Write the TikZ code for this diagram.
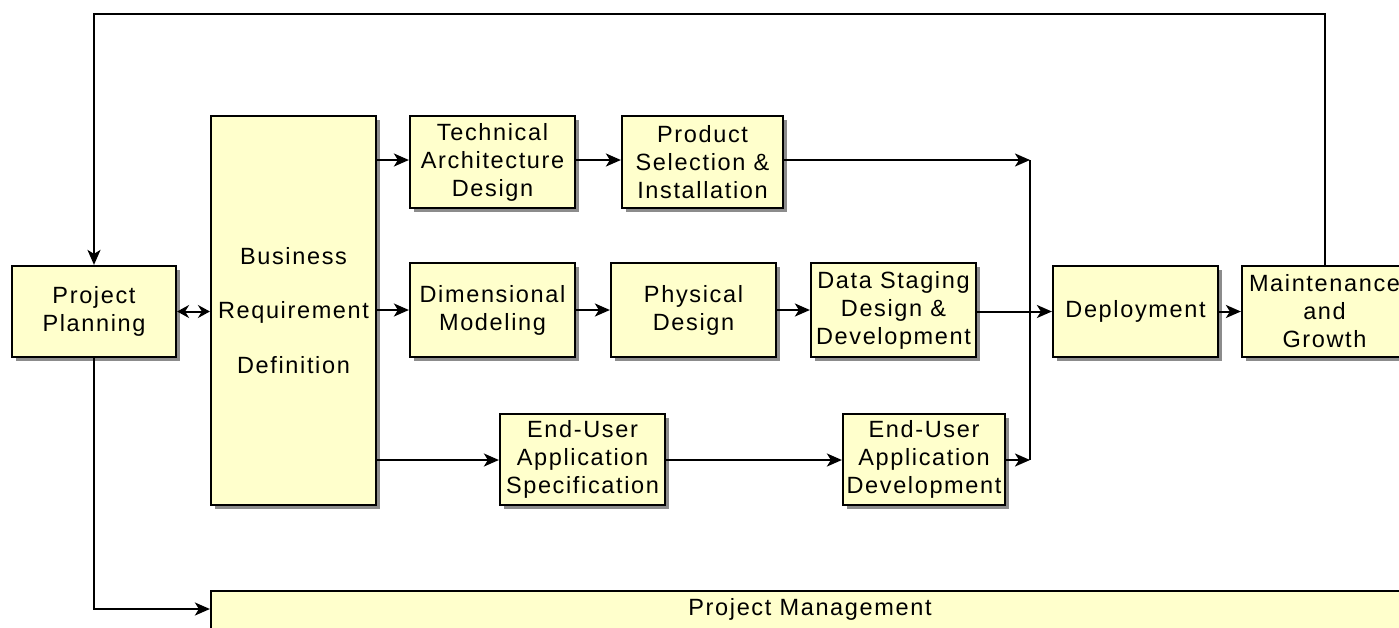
\documentclass[tikz,border=0pt]{standalone}
\usepackage{fontspec}
\setmainfont{Liberation Sans}[LetterSpace=7]
\usetikzlibrary{arrows.meta,shadows}
\definecolor{boxfill}{RGB}{255,255,204}
\begin{document}
\begin{tikzpicture}[x=1pt,y=-1pt,
  box/.style={draw=black, line width=2.2pt, fill=boxfill, inner sep=0pt, align=center,
    font=\fontsize{23.5}{28}\selectfont,
    general shadow={fill=black!45, shadow xshift=3.5pt, shadow yshift=-3.5pt}},
  conn/.style={line width=2pt, -{Stealth[length=15pt,width=13pt,inset=4pt]}},
  plain/.style={line width=2pt},
  lbl/.style={inner sep=0pt, align=center, font=\fontsize{23.5}{28}\selectfont}]
\useasboundingbox (0,0) rectangle (1399,627);
% boxes
\node[box, minimum width=164, minimum height=91] (pp) at (94,311.5) {Project\\Planning};
\node[box, minimum width=165, minimum height=389] (brd) at (293.5,310.5) {Business\\[26.5pt]Requirement\\[26.5pt]Definition};
\node[box, minimum width=165, minimum height=92] (tad) at (492.5,162) {Technical\\Architecture\\Design};
\node[box, minimum width=161, minimum height=92] (ps) at (702.5,162) {Product\\Selection \&\\Installation};
\node[box, minimum width=165, minimum height=94] (dm) at (492.5,310) {Dimensional\\Modeling};
\node[box, minimum width=165, minimum height=94] (pd) at (693.5,310) {Physical\\Design};
\node[box, minimum width=165, minimum height=94] (ds) at (893.5,310) {Data Staging\\Design \&\\Development};
\node[box, minimum width=165, minimum height=91] (euas) at (582.5,459.5) {End-User\\Application\\Specification};
\node[box, minimum width=162, minimum height=91] (euad) at (924,459.5) {End-User\\Application\\Development};
\node[box, minimum width=165, minimum height=91] (dep) at (1135.5,311.5) {Deployment};
\node[box, minimum width=165, minimum height=91] (mg) at (1324.5,311.5) {Maintenance\\and\\Growth};
\node[box, minimum width=1198, minimum height=60, anchor=north] (pm) at (810,590) {};
\node[lbl] (pmtext) at (810,609) {Project Management};
% junction points
\coordinate (j1) at (1030,160);
\coordinate (j2) at (1030,460);
\coordinate (topy) at (0,14);
% connectors
\draw[plain] (j1) -- (j2);
\draw[line width=2pt, {Stealth[length=12pt,width=13pt,inset=4pt]}-{Stealth[length=12pt,width=13pt,inset=4pt]}] (pp.east) -- (pp.east -| brd.west);
\draw[conn] (brd.east |- j1) -- (brd.east |- j1 -| tad.west);
\draw[conn] (tad.east |- j1) -- (j1 -| ps.west);
\draw[conn] (ps.east |- j1) -- (j1);
\draw[conn] (brd.east |- dm.west) -- (dm.west);
\draw[conn] (dm.east) -- (pd.west);
\draw[conn] (pd.east) -- (ds.west);
\draw[conn] (ds.east |- dep.west) -- (dep.west);
\draw[conn] (dep.east) -- (mg.west);
\draw[conn] (brd.east |- j2) -- (j2 -| euas.west);
\draw[conn] (euas.east |- j2) -- (j2 -| euad.west);
\draw[conn] (euad.east |- j2) -- (j2);
\draw[conn] (mg.north) -- (mg.north |- topy) -| (pp.north);
\draw[conn] (pp.south) |- (pm.west |- pmtext);
\end{tikzpicture}
\end{document}
